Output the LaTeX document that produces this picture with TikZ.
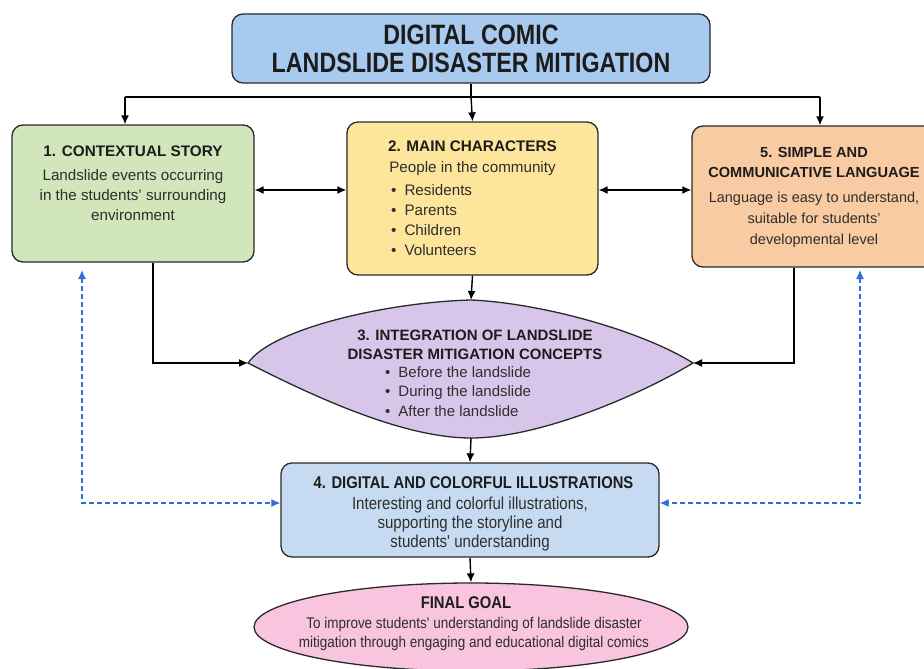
\documentclass[tikz,border=0pt]{standalone}
\usepackage{fontspec}
\setmainfont{Liberation Sans}
\newfontfamily\cond[FakeStretch=0.83]{Liberation Sans}
\newfontfamily\condb[FakeStretch=0.87]{Liberation Sans}
\usetikzlibrary{arrows.meta,calc,shapes.geometric}
\definecolor{titlec}{HTML}{A8CAEE}
\definecolor{greenc}{HTML}{D1E6BA}
\definecolor{yellowc}{HTML}{FDE59C}
\definecolor{orangec}{HTML}{F9CBA2}
\definecolor{lavc}{HTML}{D7C6EA}
\definecolor{bluec}{HTML}{C6DBF2}
\definecolor{pinkc}{HTML}{F8C4DE}
\definecolor{dashc}{HTML}{2C6FD8}
\definecolor{edgec}{HTML}{2A2A2A}
\definecolor{txt}{HTML}{1C1C1C}
\definecolor{txtb}{HTML}{2E2E2E}
\begin{document}
\begin{tikzpicture}[x=1pt,y=-1pt,
  box/.style={draw=edgec,line width=1.3pt,rounded corners=11pt,inner sep=0pt},
  lbl/.style={text=txt,align=center,inner sep=0pt},
  ttl/.style={lbl,font=\fontsize{15.3}{19}\selectfont\bfseries},
  body/.style={lbl,text=txtb,font=\fontsize{15.2}{20}\selectfont},
  conn/.style={draw=black,line width=1.4pt,-{Latex[length=9pt,width=8pt]}},
  dconn/.style={draw=black,line width=1.4pt,{Latex[length=9pt,width=8pt]}-{Latex[length=9pt,width=8pt]}},
  blued/.style={draw=dashc,line width=1.3pt,dash pattern=on 5pt off 3pt,{Latex[length=9pt,width=8pt]}-{Latex[length=9pt,width=8pt]}}]
\useasboundingbox (0,0) rectangle (924,669);
\fill[white] (0,0) rectangle (924,669);
% title
\node[box,fill=titlec,minimum width=478pt,minimum height=69pt] (top) at (471,48.5) {};
\node[lbl,font=\cond\fontsize{28}{28}\selectfont\bfseries] (topt) at (471,49) {DIGITAL COMIC\\LANDSLIDE DISASTER MITIGATION};
% box 1
\node[box,fill=greenc,minimum width=242pt,minimum height=137pt] (b1) at (133,193.5) {};
\node[ttl] (b1t) at (133,151) {1. CONTEXTUAL STORY};
\node[body] (b1b) at (133,195) {Landslide events occurring\\in the students' surrounding\\environment};
% box 2
\node[box,fill=yellowc,minimum width=251pt,minimum height=153pt] (b2) at (472.5,198.5) {};
\node[ttl] (b2t) at (472.5,146) {2. MAIN CHARACTERS};
\node[body] (b2s) at (472.5,169) {People in the community};
\node[body,align=left,anchor=north west] (b2l) at (391,184) {\textbullet\hspace{8pt}Residents\\\textbullet\hspace{8pt}Parents\\\textbullet\hspace{8pt}Children\\\textbullet\hspace{8pt}Volunteers};
% box 5
\node[box,fill=orangec,minimum width=246pt,minimum height=141pt] (b5) at (815,196.5) {};
\node[ttl,font=\fontsize{14.6}{19.5}\selectfont\bfseries] (b5t) at (814,162.5) {5. SIMPLE AND\\COMMUNICATIVE LANGUAGE};
\node[body,font=\fontsize{14.5}{21}\selectfont] (b5b) at (814,220) {Language is easy to understand,\\suitable for students'\\developmental level};
% lens
\coordinate (L) at (248,363);
\coordinate (T) at (471,300);
\coordinate (R) at (693,363);
\coordinate (B) at (471,438);
\draw[draw=edgec,line width=1.3pt,fill=lavc] (L) .. controls (272,328) and (390,302) .. (T) .. controls (540,303) and (640,330) .. (R) .. controls (640,395) and (540,438) .. (B) .. controls (410,438) and (330,405) .. (L) -- cycle;
\node[ttl,font=\fontsize{15}{19}\selectfont\bfseries] (b3t) at (475,344.5) {3. INTEGRATION OF LANDSLIDE\\DISASTER MITIGATION CONCEPTS};
\node[body,align=left,anchor=north west,font=\fontsize{15}{19.3}\selectfont] (b3l) at (385,366.5) {\textbullet\hspace{8pt}Before the landslide\\\textbullet\hspace{8pt}During the landslide\\\textbullet\hspace{8pt}After the landslide};
% box 4
\node[box,fill=bluec,minimum width=378pt,minimum height=94pt] (b4) at (470,510) {};
\node[lbl,font=\condb\fontsize{17}{19}\selectfont\bfseries] (b4t) at (473.5,483) {4. DIGITAL AND COLORFUL ILLUSTRATIONS};
\node[lbl,text=txtb,font=\condb\fontsize{17.3}{19.2}\selectfont] (b4b) at (470,524) {Interesting and colorful illustrations,\\supporting the storyline and\\students' understanding};
% final goal
\node[draw=edgec,line width=1.3pt,fill=pinkc,ellipse,minimum width=434pt,minimum height=88pt,inner sep=0pt] (fg) at (471,627) {};
\node[lbl,font=\condb\fontsize{17}{19}\selectfont\bfseries] (fgt) at (466,603) {FINAL GOAL};
\node[lbl,text=txtb,font=\condb\fontsize{15.5}{18.5}\selectfont] (fgb) at (474,634) {To improve students' understanding of landslide disaster\\mitigation through engaging and educational digital comics};
% connectors
\coordinate (split) at (471,97);
\coordinate (sl) at (125,97);
\coordinate (sr) at (820,97);
\draw[line width=1.4pt] (top.south) -- (split);
\draw[line width=1.4pt] (sl) -- (sr);
\draw[conn] (split) -- (b2.north);
\draw[conn] (sl) -- (b1.north -| sl);
\draw[conn] (sr) -- (b5.north -| sr);
\draw[dconn] (b1.east |- 0,190) -- (b2.west |- 0,190);
\draw[dconn] (b2.east |- 0,190) -- (b5.west |- 0,190);
\draw[conn] (b2.south) -- (T);
\draw[conn] (b1.south -| 153,0) |- (L);
\draw[conn] (b5.south -| 794,0) |- (R);
\draw[conn] (B) -- (b4.north);
\draw[conn] (b4.south) -- (fg.north);
\coordinate (d1) at (82,270);
\coordinate (d5) at (860,270);
\draw[blued] (d1) |- (b4.west |- 0,503);
\draw[blued] (d5) |- (b4.east |- 0,503);
\end{tikzpicture}
\end{document}
